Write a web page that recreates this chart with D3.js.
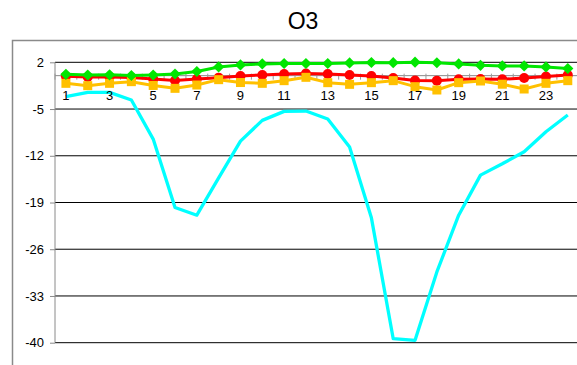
<!DOCTYPE html>
<html>
<head>
<meta charset="utf-8">
<script src="https://cdn.jsdelivr.net/npm/d3@7"></script>
<style>
  html, body { margin: 0; padding: 0; background: #fff; }
  svg { display: block; font-family: "Liberation Sans", Arial, sans-serif; }
</style>
</head>
<body>
<svg id="chart" width="577" height="365"></svg>
<script>
// Hours 1..24
const hours = d3.range(1, 25);
const yTicks = [2, -5, -12, -19, -26, -33, -40];

const greenSeries = [0.20, 0.10, 0.13, 0.02, 0.10, 0.25, 0.62, 1.30, 1.60, 1.75, 1.82, 1.82,
                     1.82, 1.90, 1.97, 1.94, 2.02, 1.93, 1.75, 1.55, 1.45, 1.45, 1.30, 1.07];
const redSeries = [-0.10, -0.20, -0.20, -0.28, -0.50, -0.73, -0.50, -0.30, -0.05, 0.10, 0.25, 0.32,
                   0.25, 0.10, -0.05, -0.35, -0.73, -0.75, -0.55, -0.50, -0.55, -0.35, -0.13, 0.10];
const yellowSeries = [-1.15, -1.50, -1.15, -0.90, -1.47, -1.90, -1.40, -0.60, -1.03, -1.15, -0.75, -0.25,
                      -1.05, -1.30, -1.05, -0.75, -1.65, -2.15, -1.05, -0.80, -1.28, -2.00, -1.15, -0.75];
const cyanSeries = [-3.15, -2.50, -2.50, -3.65, -9.50, -19.75, -20.90, -15.30, -9.80, -6.70, -5.35, -5.30,
                    -6.50, -10.70, -21.30, -39.40, -39.65, -29.40, -20.90, -14.90, -13.20, -11.40, -8.40, -5.90];

const svg = d3.select("#chart");

// Outer chart frame
svg.append("rect")
  .attr("x", 12.5).attr("y", 40.5)
  .attr("width", 620).attr("height", 400)
  .attr("fill", "none").attr("stroke", "#8a8a8a").attr("stroke-width", 1.5);

// Title
svg.append("text")
  .attr("x", 303).attr("y", 28.5)
  .attr("text-anchor", "middle")
  .attr("font-size", 23)
  .attr("fill", "#000")
  .text("O3");

const plotLeft = 55, plotRight = 578.7, plotTop = 62.3, plotBottom = 342.7;

const x = d3.scaleBand().domain(hours).range([plotLeft, plotRight]).paddingInner(0).paddingOuter(0);
const cx = d => x(d) + x.bandwidth() / 2;
const y = d3.scaleLinear().domain([-40, 2]).range([plotBottom, plotTop]);

// Horizontal gridlines
svg.append("g")
  .selectAll("line")
  .data(yTicks)
  .join("line")
  .attr("x1", plotLeft).attr("x2", plotRight)
  .attr("y1", d => y(d)).attr("y2", d => y(d))
  .attr("stroke", "#000").attr("stroke-width", 1);

// Value axis (left)
const yAxis = svg.append("g")
  .attr("transform", `translate(${plotLeft},0)`)
  .call(d3.axisLeft(y).tickValues(yTicks).tickSize(5).tickPadding(6).tickFormat(d => String(d)));
yAxis.select(".domain").attr("stroke", "#8a8a8a").attr("d", `M0,${plotTop}V${plotBottom}`);
yAxis.selectAll(".tick line").attr("stroke", "#8a8a8a");
yAxis.selectAll(".tick text")
  .attr("font-size", 13).attr("fill", "#000")
  .attr("font-family", "Liberation Sans, Arial, sans-serif");

// Category axis crossing at zero
const xAxis = svg.append("g")
  .attr("transform", `translate(0,${y(0)})`);
xAxis.append("line")
  .attr("x1", plotLeft).attr("x2", plotRight)
  .attr("y1", 0).attr("y2", 0)
  .attr("stroke", "#8a8a8a").attr("stroke-width", 1);
xAxis.selectAll("line.tick")
  .data(hours.concat([25]))
  .join("line")
  .attr("class", "tick")
  .attr("x1", d => d <= 24 ? x(d) : plotRight)
  .attr("x2", d => d <= 24 ? x(d) : plotRight)
  .attr("y1", -2).attr("y2", 4)
  .attr("stroke", "#9a9a9a").attr("stroke-width", 1);

const lineGen = d3.line().x((d, i) => cx(hours[i])).y(d => y(d));

function drawLine(values, color, width) {
  svg.append("path")
    .datum(values)
    .attr("d", lineGen)
    .attr("fill", "none")
    .attr("stroke", color)
    .attr("stroke-width", width)
    .attr("stroke-linejoin", "round");
}

// Cyan series (line only)
drawLine(cyanSeries, "#00ffff", 3.3);

// Red series with circles
drawLine(redSeries, "#ff0000", 3);
svg.append("g").selectAll("circle")
  .data(redSeries)
  .join("circle")
  .attr("cx", (d, i) => cx(hours[i]))
  .attr("cy", d => y(d))
  .attr("r", 5)
  .attr("fill", "#ff0000");

// Yellow series with squares
drawLine(yellowSeries, "#ffc000", 3);
svg.append("g").selectAll("rect")
  .data(yellowSeries)
  .join("rect")
  .attr("x", (d, i) => cx(hours[i]) - 4.5)
  .attr("y", d => y(d) - 4.5)
  .attr("width", 9).attr("height", 9)
  .attr("fill", "#ffc000");

// Green series with diamonds
drawLine(greenSeries, "#00e600", 3);
svg.append("g").selectAll("path.diamond")
  .data(greenSeries)
  .join("path")
  .attr("class", "diamond")
  .attr("d", d3.symbol(d3.symbolDiamond2, 80))
  .attr("transform", (d, i) => `translate(${cx(hours[i])},${y(d)})`)
  .attr("fill", "#00e600");

// Category labels on odd hours, drawn last so they sit above the lines
svg.append("g").selectAll("text")
  .data(hours.filter(h => h % 2 === 1))
  .join("text")
  .attr("x", d => cx(d))
  .attr("y", y(0) + 24.8)
  .attr("text-anchor", "middle")
  .attr("font-size", 13)
  .attr("fill", "#000")
  .text(d => d);
</script>
</body>
</html>
